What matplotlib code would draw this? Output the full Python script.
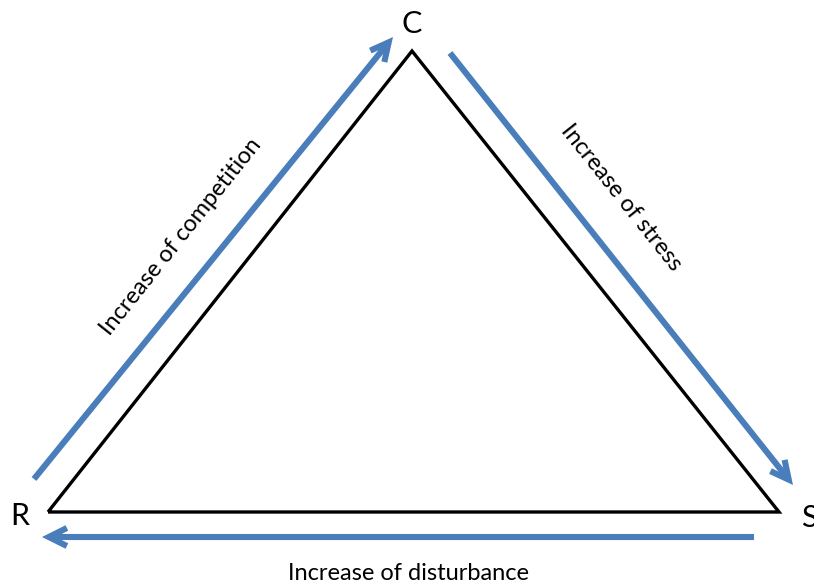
import matplotlib
matplotlib.use("Agg")
import matplotlib.pyplot as plt

# Triangle corners (pixel space, y down): R, C, S
corner_names = ["R", "C", "S"]
corner_x = [48, 412, 779]
corner_y = [512, 51, 512]
corner_label_x = [20, 412, 809]
corner_label_y = [516, 24, 518]

# Blue arrows: start -> end
arrow_start_x = [34, 450, 754]
arrow_start_y = [479, 53, 537]
arrow_end_x = [393, 793, 42]
arrow_end_y = [37, 485, 537]

side_labels = ["Increase of competition", "Increase of stress", "Increase of disturbance"]
side_label_x = [181, 621, 408]
side_label_y = [237, 198, 573]
side_label_rot = [51.5, -51.5, 0]

BLUE = "#4a7ebb"
FONT = ["Lato", "DejaVu Sans"]

fig = plt.figure(figsize=(8.14, 5.84), dpi=100)
ax = fig.add_axes([0, 0, 1, 1])
ax.set_xlim(0, 814)
ax.set_ylim(584, 0)
ax.axis("off")

# triangle
ax.plot(corner_x + corner_x[:1], corner_y + corner_y[:1], color="black", lw=2.4,
        solid_joinstyle="miter", solid_capstyle="butt")

# arrows
for x0, y0, x1, y1 in zip(arrow_start_x, arrow_start_y, arrow_end_x, arrow_end_y):
    ax.annotate("", xy=(x1, y1), xytext=(x0, y0),
                arrowprops=dict(arrowstyle="->,head_length=1.3,head_width=0.65",
                                color=BLUE, lw=4.4, shrinkA=0, shrinkB=0,
                                joinstyle="miter", capstyle="butt"))

for name, x, y in zip(corner_names, corner_label_x, corner_label_y):
    ax.text(x, y, name, fontsize=22, family=FONT, ha="center", va="center")

for txt, x, y, r in zip(side_labels, side_label_x, side_label_y, side_label_rot):
    ax.text(x, y, txt, fontsize=17, family=FONT, ha="center", va="center",
            rotation=r, rotation_mode="anchor")

fig.savefig("out.png", dpi=100)
